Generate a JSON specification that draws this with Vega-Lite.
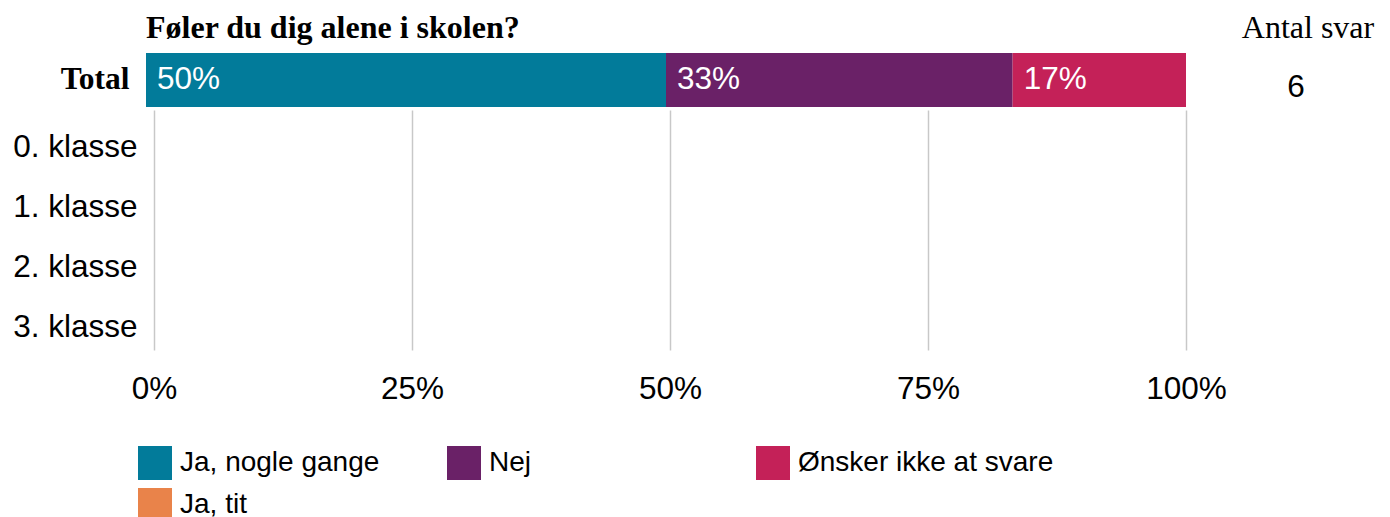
{
  "$schema": "https://vega.github.io/schema/vega-lite/v6.json",
  "padding": {"left": 12, "top": 12, "right": 5, "bottom": 0},
  "background": "white",
  "datasets": {
    "resp": [
      {"group": "Total", "svar": "Ja, nogle gange", "k": 1, "pct": 0.5},
      {"group": "Total", "svar": "Nej", "k": 2, "pct": 0.3333},
      {"group": "Total", "svar": "Ønsker ikke at svare", "k": 3, "pct": 0.1667},
      {"group": "Total", "svar": "Ja, tit", "k": 4, "pct": 0},
      {"group": "0. klasse", "svar": "Ja, nogle gange", "k": 1, "pct": 0},
      {"group": "0. klasse", "svar": "Nej", "k": 2, "pct": 0},
      {"group": "0. klasse", "svar": "Ønsker ikke at svare", "k": 3, "pct": 0},
      {"group": "0. klasse", "svar": "Ja, tit", "k": 4, "pct": 0},
      {"group": "1. klasse", "svar": "Ja, nogle gange", "k": 1, "pct": 0},
      {"group": "1. klasse", "svar": "Nej", "k": 2, "pct": 0},
      {"group": "1. klasse", "svar": "Ønsker ikke at svare", "k": 3, "pct": 0},
      {"group": "1. klasse", "svar": "Ja, tit", "k": 4, "pct": 0},
      {"group": "2. klasse", "svar": "Ja, nogle gange", "k": 1, "pct": 0},
      {"group": "2. klasse", "svar": "Nej", "k": 2, "pct": 0},
      {"group": "2. klasse", "svar": "Ønsker ikke at svare", "k": 3, "pct": 0},
      {"group": "2. klasse", "svar": "Ja, tit", "k": 4, "pct": 0},
      {"group": "3. klasse", "svar": "Ja, nogle gange", "k": 1, "pct": 0},
      {"group": "3. klasse", "svar": "Nej", "k": 2, "pct": 0},
      {"group": "3. klasse", "svar": "Ønsker ikke at svare", "k": 3, "pct": 0},
      {"group": "3. klasse", "svar": "Ja, tit", "k": 4, "pct": 0}
    ],
    "antal": [{"group": "Total", "n": 6}]
  },
  "config": {
    "view": {"stroke": null},
    "font": "Liberation Sans",
    "axis": {"domain": false, "ticks": false, "title": null}
  },
  "columns": 2,
  "bounds": "flush",
  "spacing": {"row": 7, "column": 52},
  "concat": [
    {
      "width": 1040,
      "height": 54,
      "title": {"text": "Føler du dig alene i skolen?", "font": "Liberation Serif", "fontWeight": "bold", "fontSize": 32, "anchor": "start", "frame": "group", "offset": 8, "color": "black"},
      "data": {"name": "resp"},
      "transform": [
        {"filter": "datum.group === 'Total'"},
        {"stack": "pct", "groupby": ["group"], "sort": [{"field": "k"}], "as": ["x0", "x1"]}
      ],
      "encoding": {
        "y": {"field": "group", "type": "nominal", "scale": {"paddingInner": 0, "paddingOuter": 0},
              "axis": {"labelFont": "Liberation Serif", "labelFontWeight": "bold", "labelFontSize": 31.5, "labelColor": "black", "labelPadding": 17}}
      },
      "layer": [
        {
          "mark": {"type": "bar"},
          "encoding": {
            "x": {"field": "x0", "type": "quantitative", "scale": {"domain": [0, 1], "range": [0, 1040]}, "axis": null},
            "x2": {"field": "x1"},
            "color": {"field": "svar", "type": "nominal",
              "scale": {"domain": ["Ja, nogle gange", "Nej", "Ønsker ikke at svare", "Ja, tit"], "range": ["#027B9A", "#6A2167", "#C42158", "#E9834A"]},
              "legend": {"title": null, "orient": "none", "legendX": -8, "legendY": 393, "direction": "horizontal", "columns": 3, "gridAlign": "all", "symbolType": "square", "symbolSize": 1156, "symbolStrokeWidth": 0, "symbolOpacity": 1, "labelFontSize": 28, "labelFont": "Liberation Sans", "labelColor": "black", "labelOffset": 8, "labelLimit": 500, "columnPadding": 11, "rowPadding": 8}}
          }
        },
        {
          "transform": [{"filter": "datum.pct > 0"}],
          "mark": {"type": "text", "align": "left", "baseline": "middle", "dx": 11, "fontSize": 31.5, "color": "white", "font": "Liberation Sans"},
          "encoding": {
            "x": {"field": "x0", "type": "quantitative"},
            "text": {"field": "pct", "type": "quantitative", "format": ".0%"}
          }
        }
      ]
    },
    {
      "width": 140,
      "height": 54,
      "title": {"text": "Antal svar", "font": "Liberation Serif", "fontWeight": "normal", "fontSize": 32, "anchor": "middle", "frame": "group", "offset": 8, "color": "black"},
      "data": {"name": "antal"},
      "mark": {"type": "text", "fontSize": 31.5, "font": "Liberation Sans", "color": "black", "baseline": "middle", "dx": -12, "dy": 8},
      "encoding": {
        "y": {"field": "group", "type": "nominal", "axis": null, "scale": {"paddingInner": 0, "paddingOuter": 0}},
        "text": {"field": "n", "type": "quantitative"}
      }
    },
    {
      "width": 1040,
      "height": 240,
      "data": {"name": "resp"},
      "transform": [
        {"filter": "datum.group !== 'Total'"},
        {"stack": "pct", "groupby": ["group"], "sort": [{"field": "k"}], "as": ["x0", "x1"]}
      ],
      "mark": {"type": "bar"},
      "encoding": {
        "y": {"field": "group", "type": "nominal", "scale": {"domain": ["0. klasse", "1. klasse", "2. klasse", "3. klasse"], "range": [4, 244], "paddingInner": 0, "paddingOuter": 0},
              "axis": {"labelFontSize": 31.5, "labelColor": "black", "labelPadding": 9}},
        "x": {"field": "x0", "type": "quantitative", "scale": {"domain": [0, 1], "range": [8, 1040]},
              "axis": {"values": [0, 0.25, 0.5, 0.75, 1], "format": ".0%", "labelFontSize": 31.5, "labelColor": "black", "labelPadding": 19, "grid": true, "gridColor": "#c8c8c8", "gridWidth": 1.5, "labelFlush": false}},
        "x2": {"field": "x1"},
        "color": {"field": "svar", "type": "nominal"}
      }
    }
  ]
}
